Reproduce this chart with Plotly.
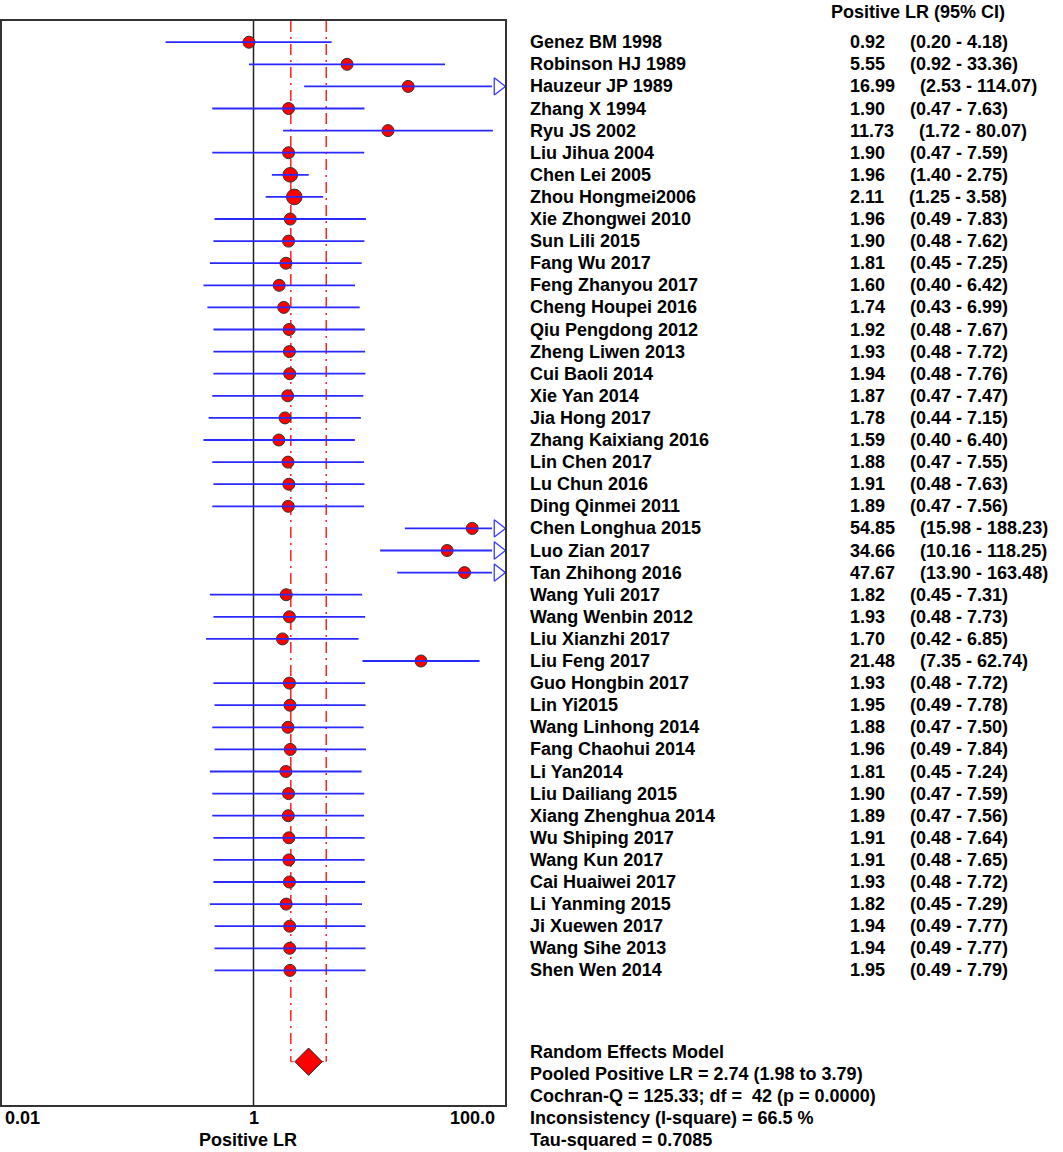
import plotly.graph_objects as go
import math

studies = ["Genez BM 1998", "Robinson HJ 1989", "Hauzeur JP 1989", "Zhang X 1994", "Ryu JS 2002",
           "Liu Jihua 2004", "Chen Lei 2005", "Zhou Hongmei2006", "Xie Zhongwei 2010", "Sun Lili 2015",
           "Fang Wu 2017", "Feng Zhanyou 2017", "Cheng Houpei 2016", "Qiu Pengdong 2012", "Zheng Liwen 2013",
           "Cui Baoli 2014", "Xie Yan 2014", "Jia Hong 2017", "Zhang Kaixiang 2016", "Lin Chen 2017",
           "Lu Chun 2016", "Ding Qinmei 2011", "Chen Longhua 2015", "Luo Zian 2017", "Tan Zhihong 2016",
           "Wang Yuli 2017", "Wang Wenbin 2012", "Liu Xianzhi 2017", "Liu Feng 2017", "Guo Hongbin 2017",
           "Lin Yi2015", "Wang Linhong 2014", "Fang Chaohui 2014", "Li Yan2014", "Liu Dailiang 2015",
           "Xiang Zhenghua 2014", "Wu Shiping 2017", "Wang Kun 2017", "Cai Huaiwei 2017", "Li Yanming 2015",
           "Ji Xuewen 2017", "Wang Sihe 2013", "Shen Wen 2014"]
lr = [0.92, 5.55, 16.99, 1.90, 11.73, 1.90, 1.96, 2.11, 1.96, 1.90,
      1.81, 1.60, 1.74, 1.92, 1.93, 1.94, 1.87, 1.78, 1.59, 1.88,
      1.91, 1.89, 54.85, 34.66, 47.67, 1.82, 1.93, 1.70, 21.48, 1.93,
      1.95, 1.88, 1.96, 1.81, 1.90, 1.89, 1.91, 1.91, 1.93, 1.82,
      1.94, 1.94, 1.95]
lo = [0.20, 0.92, 2.53, 0.47, 1.72, 0.47, 1.40, 1.25, 0.49, 0.48,
      0.45, 0.40, 0.43, 0.48, 0.48, 0.48, 0.47, 0.44, 0.40, 0.47,
      0.48, 0.47, 15.98, 10.16, 13.90, 0.45, 0.48, 0.42, 7.35, 0.48,
      0.49, 0.47, 0.49, 0.45, 0.47, 0.47, 0.48, 0.48, 0.48, 0.45,
      0.49, 0.49, 0.49]
hi = [4.18, 33.36, 114.07, 7.63, 80.07, 7.59, 2.75, 3.58, 7.83, 7.62,
      7.25, 6.42, 6.99, 7.67, 7.72, 7.76, 7.47, 7.15, 6.40, 7.55,
      7.63, 7.56, 188.23, 118.25, 163.48, 7.31, 7.73, 6.85, 62.74, 7.72,
      7.78, 7.50, 7.84, 7.24, 7.59, 7.56, 7.64, 7.65, 7.72, 7.29,
      7.77, 7.77, 7.79]
weights = [1, 1, 1, 1, 1, 1, 1.22, 1.3, 1, 1,
           1, 1, 1, 1, 1, 1, 1, 1, 1, 1,
           1, 1, 1, 1, 1, 1, 1, 1, 1, 1,
           1, 1, 1, 1, 1, 1, 1, 1, 1, 1,
           1, 1, 1]

pooled = 2.74
pooled_lo = 1.98
pooled_hi = 3.79

tick_vals = [0.01, 1, 100]
tick_text = ["0.01", "1", "100.0"]
x_title = "Positive LR"
col_header = "Positive LR (95% CI)"
footer = ["Random Effects Model",
          "Pooled Positive LR = 2.74 (1.98 to 3.79)",
          "Cochran-Q = 125.33; df =\u00a0\u00a042 (p = 0.0000)",
          "Inconsistency (I-square) = 66.5 %",
          "Tau-squared = 0.7085"]

# layout geometry
W, H = 1063, 1152
PL, PR, PT, PB = 2, 505, 21, 1105
XMIN, XMAX = -2.0, 2.0
Y_TOP, Y_BOT = -0.96, 48.09
POOLED_ROW = 46.13
px_per_dec = (PR - PL) / (XMAX - XMIN)

def xpaper(px):
    return (px - PL) / (PR - PL)

def ypaper(py):
    return (PB - py) / (PB - PT)

n = len(studies)
rows = list(range(n))

fig = go.Figure()

# reference line at 1
fig.add_trace(go.Scatter(x=[1, 1], y=[Y_TOP, Y_BOT], mode="lines",
                         line=dict(color="#222222", width=1.5), hoverinfo="skip", showlegend=False))

# pooled CI dashed lines
for v in (pooled_lo, pooled_hi):
    fig.add_trace(go.Scatter(x=[v, v], y=[Y_TOP, POOLED_ROW], mode="lines",
                             line=dict(color="#ff2020", width=1.5, dash="11px,5px,2px,5px"),
                             hoverinfo="skip", showlegend=False))
fig.add_trace(go.Scatter(x=[pooled_lo, pooled_hi], y=[POOLED_ROW, POOLED_ROW], mode="lines",
                         line=dict(color="#ff2020", width=1, dash="dot"),
                         hoverinfo="skip", showlegend=False))

# point estimates
fig.add_trace(go.Scatter(x=lr, y=rows, mode="markers",
                         marker=dict(symbol="circle", size=[12 * w for w in weights], color="#ff0000",
                                     opacity=1, line=dict(color="#333333", width=1)),
                         showlegend=False))

# CI lines (drawn over the markers, as in the reference)
arrow_center = 10 ** (XMAX - 7 / px_per_dec)
arrow_base = 10 ** (XMAX - 13 / px_per_dec)
lx, ly, ax, ay = [], [], [], []
for i in rows:
    right = hi[i]
    if math.log10(hi[i]) > XMAX:
        right = arrow_base
        ax.append(arrow_center)
        ay.append(i)
    lx += [lo[i], right, None]
    ly += [i, i, None]
fig.add_trace(go.Scatter(x=lx, y=ly, mode="lines", line=dict(color="#2a2aff", width=1.8),
                         hoverinfo="skip", showlegend=False))
fig.add_trace(go.Scatter(x=ax, y=ay, mode="markers",
                         marker=dict(symbol="triangle-right-open", size=15, color="#3a3aff",
                                     line=dict(width=1.3, color="#3a3aff")),
                         cliponaxis=False, hoverinfo="skip", showlegend=False))

# pooled diamond
fig.add_trace(go.Scatter(x=[pooled], y=[POOLED_ROW], mode="markers",
                         marker=dict(symbol="diamond", size=21, color="#ff0000", opacity=1,
                                     line=dict(color="#222222", width=1)),
                         showlegend=False))

FONT = dict(family="Arial, Liberation Sans, sans-serif", size=18, color="black", weight="bold")
ann = []
NAME_X = 528
VAL_X = 848
for i in rows:
    ann.append(dict(x=xpaper(NAME_X), y=i, xref="paper", yref="y", text=studies[i],
                    xanchor="left", yanchor="middle", showarrow=False, font=FONT))
    txt = f"{lr[i]:.2f}" + "\u00a0" * 5 + f"({lo[i]:.2f} - {hi[i]:.2f})"
    ann.append(dict(x=xpaper(VAL_X), y=i, xref="paper", yref="y", text=txt,
                    xanchor="left", yanchor="middle", showarrow=False, font=FONT))

ann.append(dict(x=xpaper(829), y=ypaper(12), xref="paper", yref="paper", text=col_header,
                xanchor="left", yanchor="middle", showarrow=False, font=FONT))

for k, line in enumerate(footer):
    ann.append(dict(x=xpaper(NAME_X), y=ypaper(1052 + k * 22), xref="paper", yref="paper", text=line,
                    xanchor="left", yanchor="middle", showarrow=False, font=FONT))

anchors = ["left", "center", "right"]
shifts = [1, 0, -8]
for v, t, a, s in zip(tick_vals, tick_text, anchors, shifts):
    ann.append(dict(x=math.log10(v), y=ypaper(1118), xref="x", yref="paper", text=t,
                    xanchor=a, yanchor="middle", xshift=s, showarrow=False, font=FONT))
ann.append(dict(x=xpaper(248), y=ypaper(1140), xref="paper", yref="paper", text=x_title,
                xanchor="center", yanchor="middle", showarrow=False, font=FONT))

fig.update_layout(
    width=W, height=H,
    margin=dict(l=PL, r=W - PR, t=PT, b=H - PB, pad=0),
    paper_bgcolor="white", plot_bgcolor="white",
    xaxis=dict(type="log", range=[XMIN, XMAX], showgrid=False, zeroline=False,
               showticklabels=False, ticks="", showline=True, mirror=True,
               linecolor="#333333", linewidth=2),
    yaxis=dict(range=[Y_BOT, Y_TOP], showgrid=False, zeroline=False,
               showticklabels=False, ticks="", showline=True, mirror=True,
               linecolor="#333333", linewidth=2),
    annotations=ann,
    showlegend=False,
)

fig.write_html("out.html", config={"displayModeBar": False},
               post_script="document.body.style.margin='0';")
